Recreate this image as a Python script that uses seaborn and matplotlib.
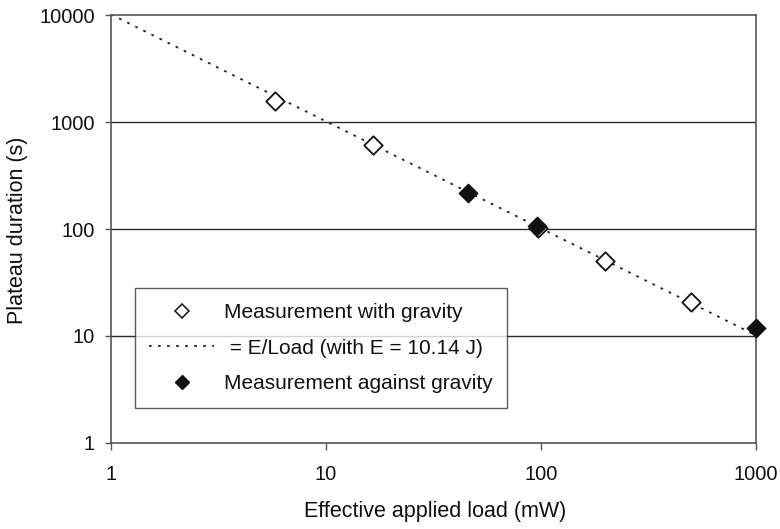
import numpy as np
import pandas as pd
import seaborn as sns
import matplotlib
matplotlib.use("Agg")
import matplotlib.pyplot as plt
from matplotlib.lines import Line2D
from matplotlib.ticker import FixedLocator, FixedFormatter, NullLocator

# Data
with_load = [5.8, 16.5, 97, 199, 499]
with_dur = [1570, 610, 103, 50.5, 20.8]
against_load = [45.7, 95.5, 1000]
against_dur = [217, 107, 11.8]
E_J = 10.14
fit_load = [1, 1000]
fit_dur = [E_J * 1000 / v for v in fit_load]
x_ticks = [1, 10, 100, 1000]
y_ticks = [1, 10, 100, 1000, 10000]

sns.set_theme(style="white")
plt.rcParams['font.family'] = ['Liberation Sans', 'DejaVu Sans']

fig = plt.figure(figsize=(7.8, 5.29), dpi=100)
ax = fig.add_axes([0.1423, 0.1626, 0.8269, 0.809])

df_fit = pd.DataFrame({"x": fit_load, "y": fit_dur})
df_w = pd.DataFrame({"x": with_load, "y": with_dur})
df_a = pd.DataFrame({"x": against_load, "y": against_dur})

ax.set_xscale("log")
ax.set_yscale("log")

for yv in y_ticks[1:-1]:
    ax.axhline(yv, color="#2a2a2a", lw=1.0, zorder=0)

dots = (0, (1.5, 3.5))
sns.lineplot(data=df_fit, x="x", y="y", ax=ax, color="#222222", lw=1.3,
             linestyle=dots, zorder=2, legend=False)
sns.scatterplot(data=df_w, x="x", y="y", ax=ax, marker="D", s=88,
                facecolor="white", edgecolor="#111111", linewidth=1.3, zorder=3, legend=False)
sns.scatterplot(data=df_a, x="x", y="y", ax=ax, marker="D", s=88,
                color="#111111", edgecolor="#111111", linewidth=1.0, zorder=4,
                legend=False, clip_on=False)

ax.set_xlim(1, 1000)
ax.set_ylim(1, 10000)
ax.xaxis.set_major_locator(FixedLocator(x_ticks))
ax.xaxis.set_major_formatter(FixedFormatter([str(v) for v in x_ticks]))
ax.yaxis.set_major_locator(FixedLocator(y_ticks))
ax.yaxis.set_major_formatter(FixedFormatter([str(v) for v in y_ticks]))
ax.xaxis.set_minor_locator(NullLocator())
ax.yaxis.set_minor_locator(NullLocator())

ax.tick_params(axis="both", which="major", direction="out", width=1,
               color="#555555", labelsize=14.5, labelcolor="#111111",
               bottom=True, left=True)
ax.tick_params(axis="x", length=5, pad=11)
ax.tick_params(axis="y", length=4.5, pad=7)
for s in ax.spines.values():
    s.set_color("#555555")
    s.set_linewidth(1.2)

ax.set_xlabel("Effective applied load (mW)", fontsize=15.5, color="#111111")
ax.set_ylabel("Plateau duration (s)", fontsize=15.5, color="#111111")
ax.xaxis.set_label_coords(0.502, -0.1355)
ax.yaxis.set_label_coords(-0.128, 0.497)

handles = [
    Line2D([], [], marker="D", markersize=7.5, markerfacecolor="white",
           markeredgecolor="#111111", markeredgewidth=1.1, linestyle="none"),
    Line2D([], [], color="#222222", lw=1.3, linestyle=dots),
    Line2D([], [], marker="D", markersize=7.5, markerfacecolor="#111111",
           markeredgecolor="#111111", linestyle="none"),
]
labels = ["Measurement with gravity", " = E/Load (with E = 10.14 J)",
          "Measurement against gravity"]
leg = ax.legend(handles, labels, loc="lower left",
                bbox_to_anchor=(0.037, 0.082, 0.577, 0.278), mode="expand",
                fontsize=15, frameon=True, fancybox=False, handlelength=3.1,
                handletextpad=0.5, borderpad=0.7, labelspacing=0.8,
                borderaxespad=0)
leg.get_frame().set_edgecolor("#333333")
leg.get_frame().set_linewidth(1.0)
for t in leg.get_texts():
    t.set_color("#111111")

fig.savefig("out.png", dpi=100)
